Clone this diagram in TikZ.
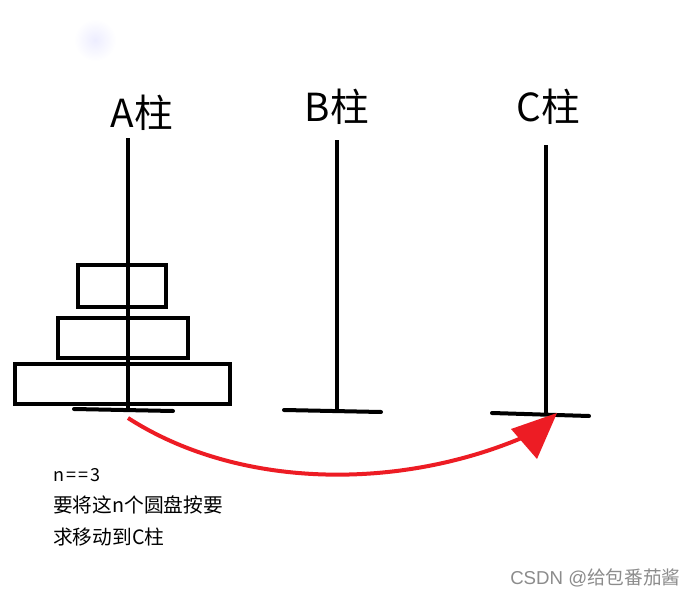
\documentclass[tikz,border=0pt]{standalone}
\usepackage{fontspec}
\setmainfont{Noto Sans CJK SC}
\newfontfamily\latinfont{Liberation Sans}
\usetikzlibrary{arrows.meta}
\definecolor{arrred}{HTML}{ED1C24}
\begin{document}
\begin{tikzpicture}[x=0.75pt,y=-0.75pt,
  pole/.style={line width=3pt},
  base/.style={line width=3pt,line cap=round},
  disk/.style={draw,line width=3pt,inner sep=0pt},
  title/.style={font=\fontsize{29}{33}\selectfont,inner sep=0pt},
  note/.style={font=\fontsize{14.8}{17}\selectfont,anchor=west,inner sep=0pt},
  small/.style={font=\fontsize{13.5}{15}\selectfont,anchor=west,inner sep=0pt}]
\useasboundingbox[fill=white] (0,0) rectangle (697,596);
% faint blob
\shade[inner color=blue!7,outer color=white] (95,40) circle (21);
% titles
\node[title] (tA) at (142,113) {A柱};
\node[title] (tB) at (337,107) {B柱};
\node[title] (tC) at (548,107) {C柱};
% poles
\coordinate (A1) at (128,138); \coordinate (A2) at (128,409);
\coordinate (B1) at (337,140); \coordinate (B2) at (337,411);
\coordinate (C1) at (546,145); \coordinate (C2) at (546,415);
\draw[pole] (A1) -- (A2);
\draw[pole] (B1) -- (B2);
\draw[pole] (C1) -- (C2);
% bases
\coordinate (Al) at (74,409); \coordinate (Ar) at (173,411);
\coordinate (Bl) at (284,410); \coordinate (Br) at (381,412);
\coordinate (Cl) at (492,413); \coordinate (Cr) at (589,416);
\draw[base] (Al) -- (Ar);
\draw[base] (Bl) -- (Br);
\draw[base] (Cl) -- (Cr);
% disks
\node[disk,minimum width=66pt,minimum height=32pt] (d1) at (121.5,286) {};
\node[disk,minimum width=98pt,minimum height=29.5pt] (d2) at (123,338) {};
\node[disk,minimum width=161pt,minimum height=29.5pt] (d3) at (122.5,384) {};
% arrow
\coordinate (s) at (128,418);
\coordinate (e) at (524,437);
\coordinate (tip) at (557,413);
\coordinate (b1) at (511,429);
\coordinate (b2) at (537,459);
\draw[arrred,line width=3pt]
  (s) .. controls (240,490) and (400,490) .. (e);
\fill[arrred] (tip) -- (b1) -- (b2) -- cycle;
% text
\node[small] (n1) at (53,475) {n\hspace{1.5pt}=\hspace{1.5pt}=\hspace{1.5pt}3};
\node[note] (n2) at (53,505) {要将这n个圆盘按要};
\node[note] (n3) at (53,537) {求移动到C柱};
\node[small,font=\fontsize{14}{16}\selectfont,text=black!45] (wm) at (510,578) {{\latinfont CSDN @}给包番茄酱};
\end{tikzpicture}
\end{document}
